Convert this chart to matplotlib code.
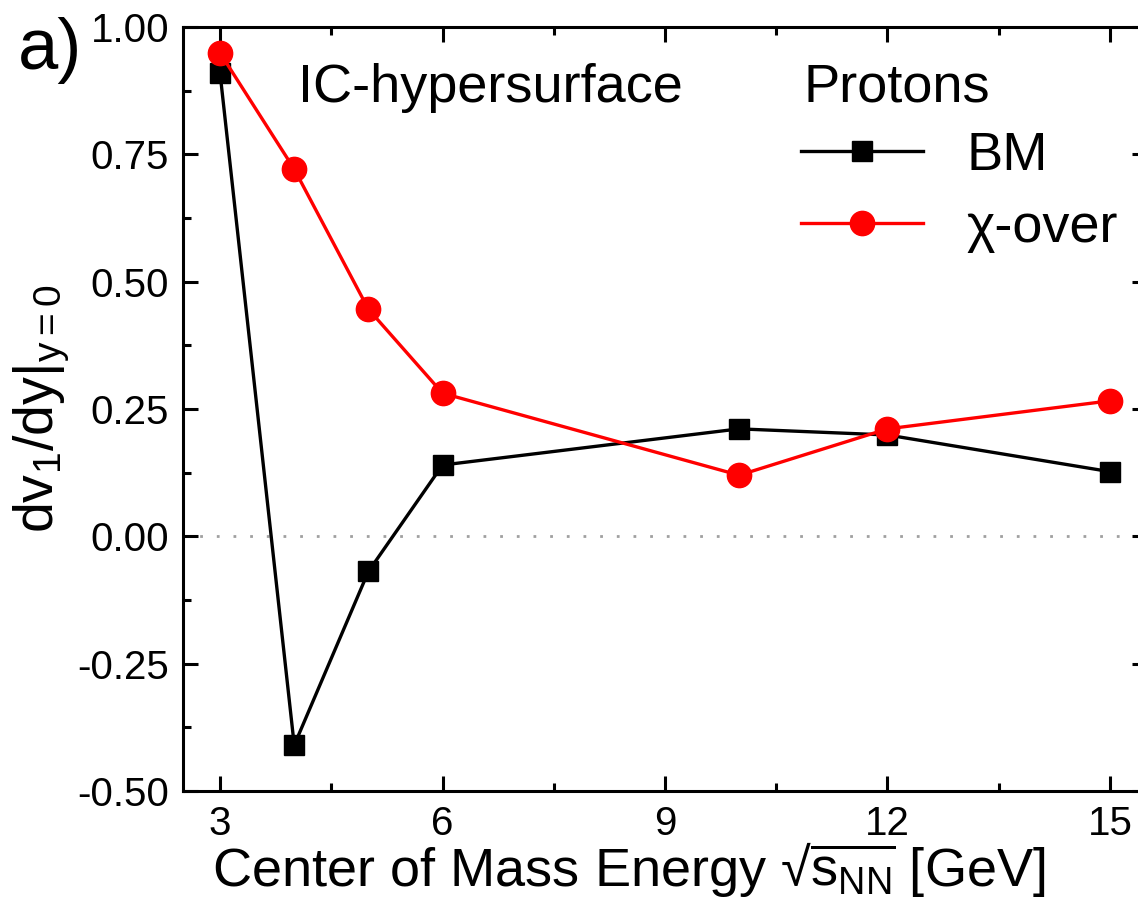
import matplotlib
matplotlib.use("Agg")
import matplotlib.pyplot as plt
from matplotlib.ticker import MultipleLocator, FixedLocator

plt.rcParams['font.family'] = ['Liberation Sans', 'DejaVu Sans']
plt.rcParams['mathtext.fontset'] = 'custom'
plt.rcParams['mathtext.rm'] = 'Liberation Sans'
plt.rcParams['mathtext.it'] = 'Liberation Sans'
plt.rcParams['mathtext.sf'] = 'Liberation Sans'

# collision energies and slopes of directed flow for protons
energy = [3, 4, 5, 6, 10, 12, 15]
bm_slope = [0.909, -0.410, -0.069, 0.140, 0.211, 0.199, 0.127]
xover_slope = [0.949, 0.721, 0.446, 0.281, 0.120, 0.211, 0.266]

x_ticks = [3, 6, 9, 12, 15]
y_ticks = [-0.50, -0.25, 0.00, 0.25, 0.50, 0.75, 1.00]

W, H = 1138, 908
fig = plt.figure(figsize=(W / 100, H / 100), dpi=100)
ax = fig.add_axes([183 / W, 1 - 791 / H, 964 / W, 764 / H])

ax.axhline(0, color='#a0a0a0', lw=2.0, linestyle=(0, (1, 5)), zorder=1)

ax.plot(energy, bm_slope, color='black', lw=2.4, marker='s', ms=15,
        label='BM', zorder=3)
ax.plot(energy, xover_slope, color='#ff0000', lw=2.4, marker='o', ms=17.5,
        label='χ-over', zorder=4)

ax.set_xlim(2.5, 15.5)
ax.set_ylim(-0.5, 1.0)
ax.xaxis.set_major_locator(FixedLocator(x_ticks))
ax.xaxis.set_minor_locator(MultipleLocator(1.5))
ax.yaxis.set_major_locator(FixedLocator(y_ticks))
ax.yaxis.set_minor_locator(MultipleLocator(0.125))
ax.set_yticklabels([f"{v:.2f}" for v in y_ticks])

ax.tick_params(which='both', direction='in', top=True, right=True,
               width=2.2, labelsize=29, pad=10)
ax.tick_params(which='major', length=11)
ax.tick_params(which='minor', length=6)
for s in ax.spines.values():
    s.set_linewidth(2.2)

# axis titles placed in figure coordinates
fig.text(629 / W, 1 - 886 / H,
         r"Center of Mass Energy √$\overline{\mathrm{s}_{\mathrm{NN}}}$ [GeV]",
         fontsize=39, ha='center', va='baseline')
ax.set_ylabel(r"dv$_1$/dy|$_{y=0}$", fontsize=40, labelpad=4)

fig.text(18 / W, 1 - 50 / H, "a)", fontsize=52, va='center', ha='left')
fig.text(298 / W, 1 - 88 / H, "IC-hypersurface", fontsize=39,
         va='center', ha='left')
fig.text(803 / W, 1 - 88 / H, "Protons", fontsize=39, va='center', ha='left')

ax.legend(loc='upper left', bbox_to_anchor=(801 / W, 1 - 131 / H),
          bbox_transform=fig.transFigure, frameon=False, fontsize=39,
          handlelength=2.25, handletextpad=0.8, labelspacing=0.4,
          borderpad=0, borderaxespad=0)

fig.savefig("out.png", dpi=100)
